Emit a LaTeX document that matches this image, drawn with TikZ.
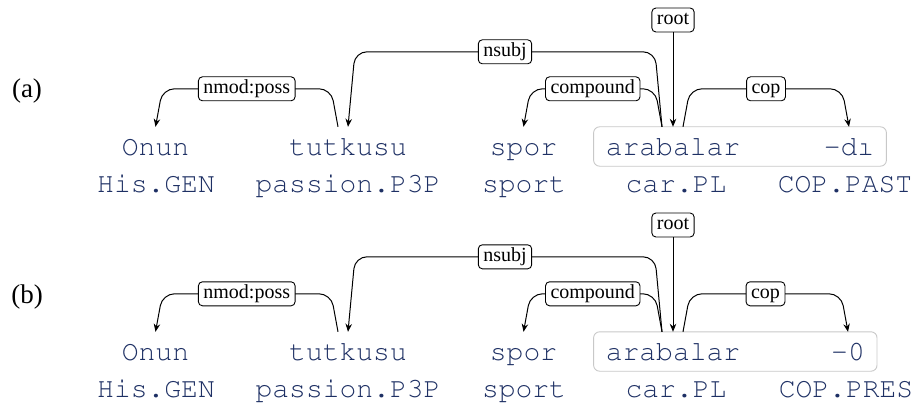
\documentclass[tikz,border=0pt]{standalone}
\usepackage[T1]{fontenc}
\usepackage{fontspec}
\setmainfont{Liberation Serif}
\usetikzlibrary{arrows.meta}
\newcommand\wordfont{\fontencoding{T1}\fontfamily{pcr}\fontsize{28}{30}\selectfont}
\definecolor{wordblue}{RGB}{30,48,100}
\definecolor{groupgray}{RGB}{200,200,200}
\tikzset{
  word/.style={anchor=base, text=wordblue, font=\wordfont,
    inner xsep=12pt, inner ysep=4pt, text height=24pt, text depth=7pt},
  gloss/.style={anchor=base, text=wordblue, font=\wordfont, inner sep=0pt},
  deplabel/.style={draw, fill=white, rounded corners=4pt, line width=0.9pt,
    font=\fontsize{20}{22}\selectfont, inner xsep=5pt, inner ysep=3pt,
    text height=13.5pt, text depth=4.5pt},
  dep/.style={line width=1pt, rounded corners=12pt, -{Stealth[length=8pt,width=6.5pt]}},
  wordgroup/.style={draw=groupgray, line width=0.9pt, rounded corners=6pt},
  sentlabel/.style={anchor=base, font=\fontsize{27}{30}\selectfont}
}
\begin{document}
\begin{tikzpicture}[x=1pt,y=1pt]
  \useasboundingbox (0,0) rectangle (920,405);
  % (a) past tense
  \node[sentlabel] (atag) at (27,307) {(a)};
  \node[word] (a1) at (155.5,250) {Onun};
  \node[word] (a2) at (348,250) {tutkusu};
  \node[word] (a3) at (523.5,250) {spor};
  \node[word] (a4) at (673,250) {arabalar};
  \node[word] (a5) at (849,250) {-d\i};
  \node[gloss] (ag1) at (156,213) {His.GEN};
  \node[gloss] (ag2) at (348,213) {passion.P3P};
  \node[gloss] (ag3) at (524,213) {sport};
  \node[gloss] (ag4) at (676,213) {car.PL};
  \node[gloss] (ag5) at (845,213) {COP.PAST};
  \draw[wordgroup] (a4.south west) rectangle (a5.north east);
  \node[deplabel] (aroot) at (673,385) {root};
  \draw[dep] (aroot) -- (a4.north);
  \draw[dep] ([xshift=-10pt]a2.north) -- ([shift={(-17pt,38pt)}]a2.north)
    -- ([shift={(7pt,38pt)}]a1.north) node[deplabel, midway] (anmod) {nmod:poss} -- (a1.north);
  \draw[dep] ([xshift=-11pt]a4.north) -- ([shift={(-18pt,75pt)}]a4.north)
    -- ([shift={(7pt,75pt)}]a2.north) node[deplabel, midway] (ansubj) {nsubj} -- (a2.north);
  \draw[dep] ([xshift=-11pt]a4.north) -- ([shift={(-18pt,38pt)}]a4.north)
    -- ([shift={(7pt,38pt)}]a3.north) node[deplabel, midway] (acomp) {compound} -- (a3.north);
  \draw[dep] ([xshift=10pt]a4.north) -- ([shift={(17pt,38pt)}]a4.north)
    -- ([shift={(-7pt,38pt)}]a5.north) node[deplabel, midway] (acop) {cop} -- (a5.north);
  % (b) present tense
  \begin{scope}[yshift=-205pt]
    \node[sentlabel] (btag) at (27,307) {(b)};
    \node[word] (b1) at (155.5,250) {Onun};
    \node[word] (b2) at (348,250) {tutkusu};
    \node[word] (b3) at (523.5,250) {spor};
    \node[word] (b4) at (673,250) {arabalar};
    \node[word] (b5) at (848,250) {-0};
    \node[gloss] (bg1) at (156,213) {His.GEN};
    \node[gloss] (bg2) at (348,213) {passion.P3P};
    \node[gloss] (bg3) at (524,213) {sport};
    \node[gloss] (bg4) at (676,213) {car.PL};
    \node[gloss] (bg5) at (846,213) {COP.PRES};
    \draw[wordgroup] (b4.south west) rectangle (b5.north east);
    \node[deplabel] (broot) at (673,385) {root};
    \draw[dep] (broot) -- (b4.north);
    \draw[dep] ([xshift=-10pt]b2.north) -- ([shift={(-17pt,38pt)}]b2.north)
      -- ([shift={(7pt,38pt)}]b1.north) node[deplabel, midway] (bnmod) {nmod:poss} -- (b1.north);
    \draw[dep] ([xshift=-11pt]b4.north) -- ([shift={(-18pt,75pt)}]b4.north)
      -- ([shift={(7pt,75pt)}]b2.north) node[deplabel, midway] (bnsubj) {nsubj} -- (b2.north);
    \draw[dep] ([xshift=-11pt]b4.north) -- ([shift={(-18pt,38pt)}]b4.north)
      -- ([shift={(7pt,38pt)}]b3.north) node[deplabel, midway] (bcomp) {compound} -- (b3.north);
    \draw[dep] ([xshift=10pt]b4.north) -- ([shift={(17pt,38pt)}]b4.north)
      -- ([shift={(-7pt,38pt)}]b5.north) node[deplabel, midway] (bcop) {cop} -- (b5.north);
  \end{scope}
\end{tikzpicture}
\end{document}
